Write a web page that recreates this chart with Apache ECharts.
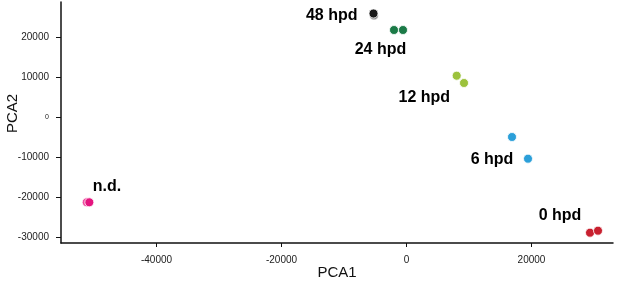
<!DOCTYPE html>
<html>
<head>
<meta charset="utf-8">
<script src="https://cdn.jsdelivr.net/npm/echarts@6/dist/echarts.min.js"></script>
<style>
html,body{margin:0;padding:0;background:#fff;}
#c{width:617px;height:284px;}
</style>
</head>
<body>
<div id="c"></div>
<script>
// ---- data ----
const groups = ['0 hpd', '6 hpd', '12 hpd', '24 hpd', '48 hpd', 'n.d.'];
const pca1 = [
  [29360, 30640],
  [16880, 19440],
  [8030, 9200],
  [-2000, -560],
  [-5200, -5280],
  [-51170, -50750]
];
const pca2 = [
  [-28925, -28425],
  [-5000, -10425],
  [10325, 8500],
  [21750, 21750],
  [25375, 25870],
  [-21325, -21325]
];
const xTicks = [-40000, -20000, 0, 20000];
const yTicks = [-30000, -20000, -10000, 0, 10000, 20000];

// ---- style ----
const colors = [
  ['#c8202f', '#c8202f'],
  ['#2b9fd9', '#2b9fd9'],
  ['#9cc23c', '#9cc23c'],
  ['#1b7a47', '#1b7a47'],
  ['#8a8a8a', '#1a1a1a'],
  ['#ee4da0', '#e4157f']
];
const labelOffsets = [[-34, -16], [-28, 12], [-36, 18], [-18, 20], [-42, 1], [19, -16]];
const font = "'Liberation Sans', Arial, sans-serif";

const series = [];
groups.forEach((g, i) => {
  series.push({
    type: 'scatter',
    name: g,
    symbolSize: 9,
    data: pca1[i].map((x, j) => ({
      value: [x, pca2[i][j]],
      itemStyle: { color: colors[i][j], borderColor: '#fff', borderWidth: 0.8, opacity: 1 }
    })),
    z: 3
  });
});
// group labels placed at the group centroid
series.push({
  type: 'scatter',
  symbolSize: 0,
  silent: true,
  itemStyle: { opacity: 1 },
  data: groups.map((g, i) => {
    const mx = pca1[i].reduce((a, b) => a + b, 0) / pca1[i].length;
    const my = pca2[i].reduce((a, b) => a + b, 0) / pca2[i].length;
    return {
      name: g,
      value: [mx, my],
      label: { offset: labelOffsets[i] }
    };
  }),
  label: {
    show: true,
    position: 'inside',
    formatter: p => p.name,
    fontFamily: font,
    fontWeight: 'bold',
    fontSize: 16,
    color: '#000',
    opacity: 1
  },
  z: 4
});

const chart = echarts.init(document.getElementById('c'), null, { renderer: 'canvas' });
chart.setOption({
  animation: false,
  backgroundColor: '#fff',
  grid: { left: 61, right: 4, top: 2, bottom: 41, containLabel: false, outerBoundsMode: 'none' },
  xAxis: {
    type: 'value',
    min: -55280,
    max: 33040,
    name: 'PCA1',
    nameLocation: 'middle',
    nameGap: 22,
    nameMoveOverlap: false,
    nameTextStyle: { fontFamily: font, fontSize: 15, color: '#111' },
    splitLine: { show: false },
    axisLine: { show: true, onZero: false, lineStyle: { color: '#111', width: 1.5 } },
    axisTick: { show: true, length: 4, customValues: xTicks, lineStyle: { color: '#111', width: 1 } },
    axisLabel: { customValues: xTicks, margin: 12, fontFamily: font, fontSize: 10, color: '#222', formatter: v => String(v) }
  },
  yAxis: {
    type: 'value',
    min: -31500,
    max: 28750,
    name: 'PCA2',
    nameLocation: 'middle',
    nameGap: 41,
    nameMoveOverlap: false,
    nameTextStyle: { fontFamily: font, fontSize: 15, color: '#111', padding: [0, 0, 0, 18] },
    splitLine: { show: false },
    axisLine: { show: true, onZero: false, lineStyle: { color: '#111', width: 1.5 } },
    axisTick: { show: true, length: 5, customValues: yTicks, lineStyle: { color: '#111', width: 1 } },
    axisLabel: {
      customValues: yTicks,
      margin: 12,
      fontFamily: font,
      fontSize: 10,
      color: '#222',
      formatter: v => (v === 0 ? '{s|0}' : String(v)),
      rich: { s: { fontSize: 7, fontFamily: font, color: '#222' } }
    }
  },
  series: series
});
</script>
</body>
</html>
